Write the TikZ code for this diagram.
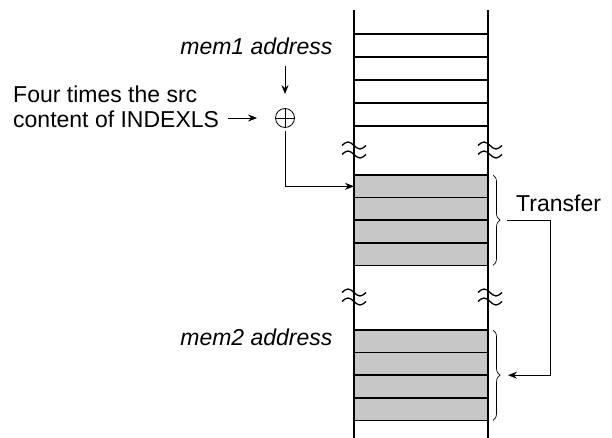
\documentclass[tikz,border=0pt]{standalone}
\usepackage{fontspec}
\setmainfont{Liberation Sans}
\usetikzlibrary{positioning,arrows.meta,decorations.pathreplacing}

% two small waves across a wall: the column is cut here
\newcommand\breakmark[2]{%
  \foreach \dy in {-4.5,4.5}
    \draw[wave] (#1-12,#2+\dy) sin (#1-6,#2+\dy-3.5) cos (#1,#2+\dy)
                sin (#1+6,#2+\dy+3.5) cos (#1+12,#2+\dy);}

\begin{document}
\begin{tikzpicture}[x=1pt, y=-1pt,
    every node/.style={font=\fontsize{23}{24.5}\selectfont},
    wall/.style  ={line width=1.6pt},
    cell/.style  ={draw, line width=1.6pt, minimum width=134pt,
                   minimum height=23pt, inner sep=0pt, outer sep=0pt},
    shaded/.style={cell, fill=black!22, minimum height=22.6pt},
    wave/.style  ={line width=1.3pt},
    arr/.style   ={-{Stealth[length=9pt,width=7pt]}, line width=0.9pt},
    curly/.style ={decorate, decoration={brace, amplitude=7pt},
                   line width=0.7pt},
    adder/.style ={circle, draw, line width=0.8pt, minimum size=19pt,
                   inner sep=0pt,
                   path picture={\draw[line width=0.8pt]
                     (path picture bounding box.north) -- (path picture bounding box.south)
                     (path picture bounding box.west) -- (path picture bounding box.east);}}
  ]
  \useasboundingbox (0,0) rectangle (612,438);

  % memory column
  \foreach \i in {1,...,4}
    \node[cell]   (w\i) at (421,22.5+23*\i)   {};
  \foreach \i in {1,...,4}
    \node[shaded] (g\i) at (421,163.7+22.6*\i) {};
  \foreach \i in {1,...,4}
    \node[shaded] (h\i) at (421,318.7+22.6*\i) {};
  \draw[wall] (354,10) -- (354,438);
  \draw[wall] (488,10) -- (488,438);
  \breakmark{354}{150}
  \breakmark{490}{150}
  \breakmark{354}{297}
  \breakmark{490}{297}

  % address calculation
  \node[adder] (sum) at (285,118) {};
  \node[anchor=base east, font=\fontsize{23}{24.5}\selectfont\itshape]
        (mem1) at (336,55) {mem1 address};
  \node[anchor=base west, align=left, inner sep=0pt]
        (four) at (13,127.5) {Four times the src\\content of INDEXLS};
  \node[anchor=base east, font=\fontsize{23}{24.5}\selectfont\itshape]
        (mem2) at (336,345) {mem2 address};
  \node[anchor=base west, inner sep=0pt] (xfer) at (516,211.5) {Transfer};

  \draw[arr] (285,66) -- ([yshift=14pt]sum.north);
  \draw[arr] ([xshift=9pt]four.south east |- sum) -- ([xshift=-18pt]sum.west);
  \draw[arr] ([yshift=-3pt]sum.south) |- (g1.west);

  % transfer between the two blocks
  \draw[curly] ([xshift=5pt]g1.north east) -- ([xshift=5pt]g4.south east);
  \draw[curly] ([xshift=5pt]h1.north east) -- ([xshift=5pt]h4.south east);
  \coordinate (src)  at ([xshift=19pt]g2.south east);
  \coordinate (dst)  at ([xshift=20pt]h2.south east);
  \coordinate (turn) at (550,0);
  \draw[arr] (src) -| (turn |- dst) -- (dst);
\end{tikzpicture}
\end{document}
